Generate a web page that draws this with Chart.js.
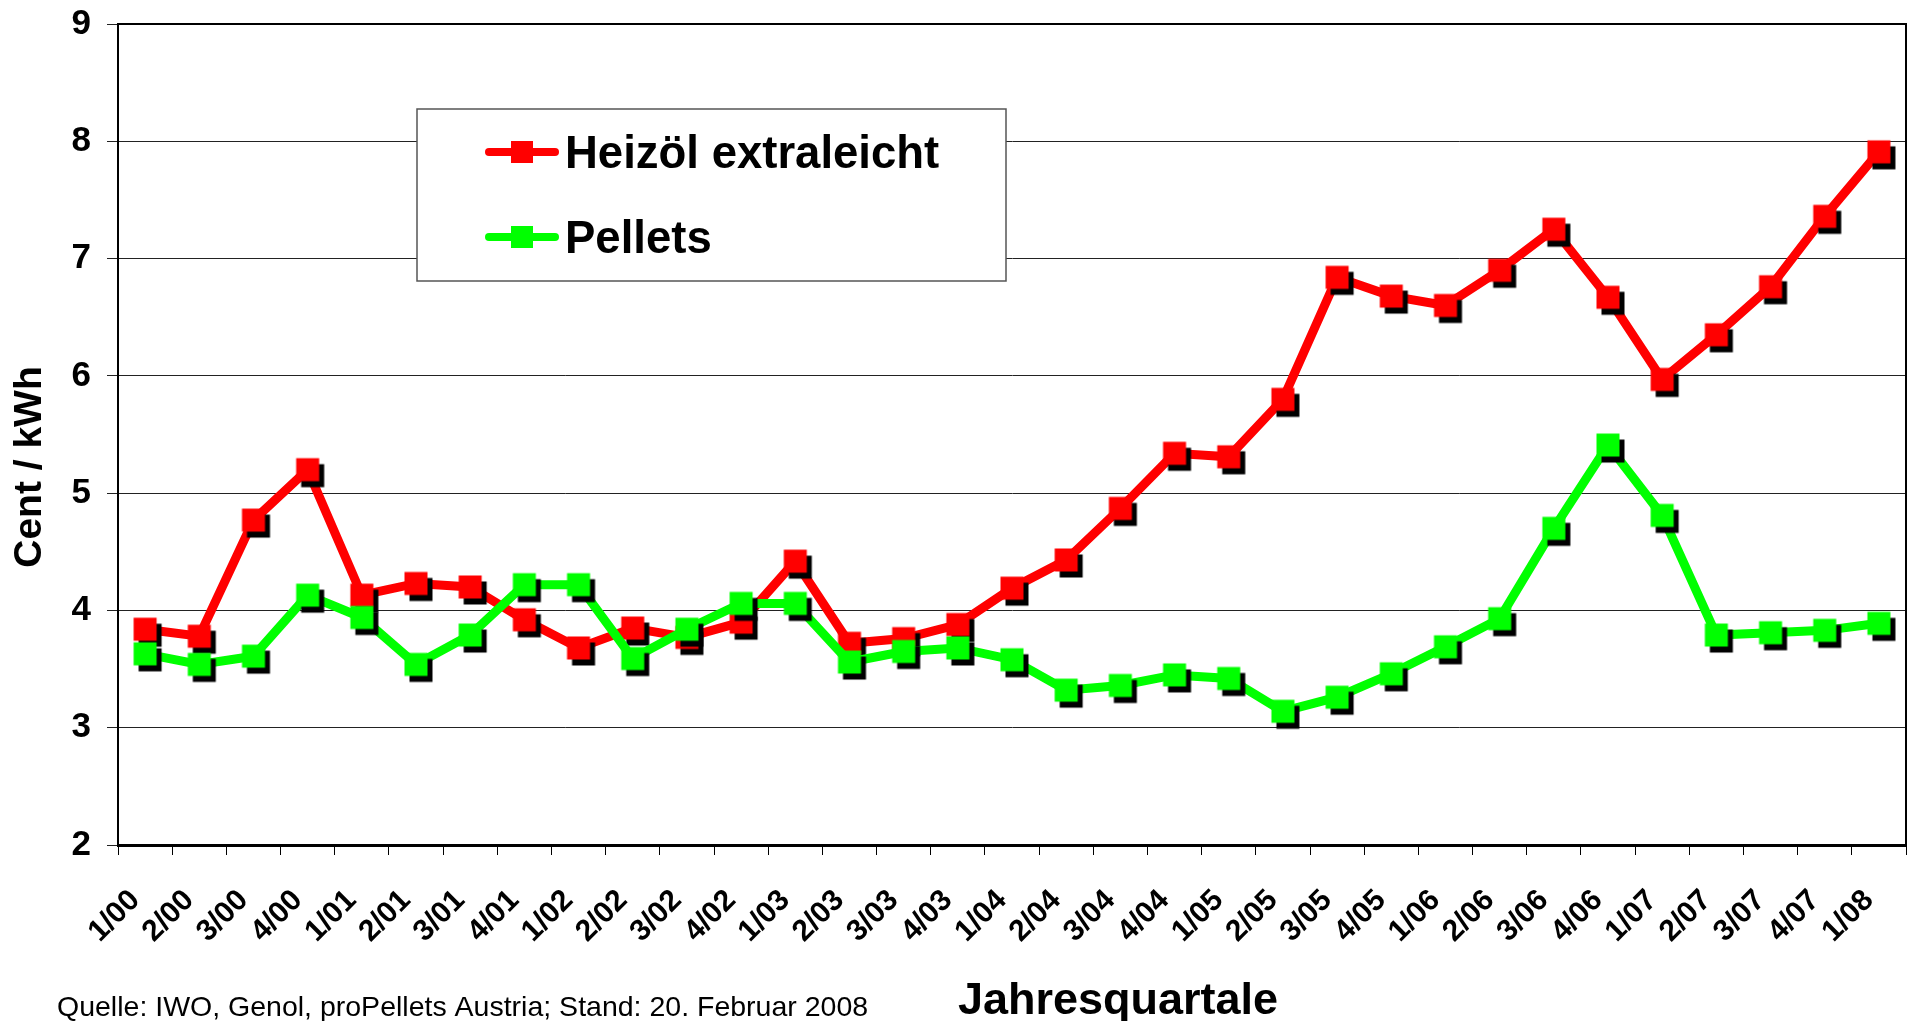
<!DOCTYPE html>
<html>
<head>
<meta charset="utf-8">
<script src="https://cdn.jsdelivr.net/npm/chart.js@4"></script>
<style>
  html, body { margin: 0; padding: 0; background: #fff; }
  #wrap { width: 1927px; height: 1021px; position: relative; }
</style>
</head>
<body>
<div id="wrap"><canvas id="chart"></canvas></div>
<script>
// Quartale 1/00 .. 1/08
const quarters = ['1/00','2/00','3/00','4/00','1/01','2/01','3/01','4/01','1/02','2/02','3/02','4/02',
  '1/03','2/03','3/03','4/03','1/04','2/04','3/04','4/04','1/05','2/05','3/05','4/05',
  '1/06','2/06','3/06','4/06','1/07','2/07','3/07','4/07','1/08'];

// Cent / kWh
const heizoel = [3.84, 3.78, 4.77, 5.20, 4.13, 4.23, 4.20, 3.92, 3.68, 3.85, 3.77, 3.90,
  4.42, 3.72, 3.76, 3.88, 4.19, 4.43, 4.87, 5.34, 5.31, 5.80, 6.84, 6.68,
  6.60, 6.90, 7.25, 6.67, 5.97, 6.35, 6.76, 7.36, 7.91];
const pellets = [3.63, 3.54, 3.61, 4.13, 3.94, 3.54, 3.79, 4.22, 4.22, 3.59, 3.84, 4.06,
  4.06, 3.56, 3.65, 3.68, 3.58, 3.32, 3.36, 3.45, 3.42, 3.14, 3.26, 3.46,
  3.69, 3.93, 4.70, 5.41, 4.81, 3.79, 3.81, 3.83, 3.89];

const yTicks = [2, 3, 4, 5, 6, 7, 8, 9];
const seriesNames = ['Heizöl extraleicht', 'Pellets'];
const yTitle = 'Cent / kWh';
const xTitle = 'Jahresquartale';
const sourceNote = 'Quelle: IWO, Genol, proPellets Austria; Stand: 20. Februar 2008';

const FONT = '"Liberation Sans", Arial, sans-serif';
Chart.defaults.font.family = FONT;
Chart.defaults.color = '#000';

// square marker with a black drop shadow, like the old excel charts
function shadowSquare(color) {
  const c = document.createElement('canvas');
  c.width = 48; c.height = 48;
  const ctx = c.getContext('2d');
  ctx.fillStyle = '#000';
  ctx.fillRect(17.5, 18.5, 23, 23);
  ctx.fillStyle = color;
  ctx.fillRect(12.5, 12.5, 23, 23);
  return c;
}

const frame = {
  id: 'frame',
  beforeDatasetsDraw(chart) {
    const { ctx, chartArea: a } = chart;
    ctx.save();
    ctx.strokeStyle = '#000';
    ctx.lineWidth = 2;
    ctx.beginPath();
    ctx.moveTo(a.left, a.top);
    ctx.lineTo(a.right, a.top);
    ctx.lineTo(a.right, a.bottom);
    ctx.stroke();
    ctx.restore();
  }
};

const boxLegend = {
  id: 'boxLegend',
  afterDraw(chart) {
    const ctx = chart.ctx;
    ctx.save();
    ctx.fillStyle = '#fff';
    ctx.fillRect(417, 109, 589, 172);
    ctx.strokeStyle = '#555';
    ctx.lineWidth = 1.5;
    ctx.strokeRect(417, 109, 589, 172);
    chart.data.datasets.forEach((ds, i) => {
      const y = 152 + i * 85;
      ctx.strokeStyle = ds.borderColor;
      ctx.lineWidth = 8;
      ctx.lineCap = 'round';
      ctx.beginPath();
      ctx.moveTo(489, y);
      ctx.lineTo(555, y);
      ctx.stroke();
      ctx.fillStyle = ds.borderColor;
      ctx.fillRect(511, y - 11, 22, 22);
      ctx.fillStyle = '#000';
      ctx.font = 'bold 45.5px ' + FONT;
      ctx.textBaseline = 'alphabetic';
      ctx.fillText(ds.label, 565, y + 16);
    });
    ctx.restore();
  }
};

const axisTexts = {
  id: 'axisTexts',
  afterDraw(chart) {
    const ctx = chart.ctx;
    ctx.save();
    ctx.fillStyle = '#000';
    ctx.textBaseline = 'middle';
    ctx.textAlign = 'center';
    ctx.font = 'bold 45px ' + FONT;
    ctx.fillText(xTitle, 1118, 1002);
    ctx.textAlign = 'left';
    ctx.font = '28.5px ' + FONT;
    ctx.fillText(sourceNote, 57, 1008);
    ctx.translate(30, 467);
    ctx.rotate(-Math.PI / 2);
    ctx.textAlign = 'center';
    ctx.font = 'bold 39px ' + FONT;
    ctx.fillText(yTitle, 0, 0);
    ctx.restore();
  }
};

new Chart(document.getElementById('chart'), {
  type: 'line',
  data: {
    labels: quarters,
    datasets: [
      {
        label: seriesNames[0],
        data: heizoel,
        borderColor: '#ff0000',
        backgroundColor: '#ff0000',
        borderWidth: 9,
        pointStyle: shadowSquare('#ff0000'),
        pointRadius: 12,
        tension: 0,
        order: 1
      },
      {
        label: seriesNames[1],
        data: pellets,
        borderColor: '#00ff00',
        backgroundColor: '#00ff00',
        borderWidth: 9,
        pointStyle: shadowSquare('#00ff00'),
        pointRadius: 12,
        tension: 0,
        order: 0
      }
    ]
  },
  options: {
    responsive: true,
    maintainAspectRatio: false,
    animation: false,
    layout: { padding: { top: 24, right: 8, left: 0, bottom: 0 } },
    plugins: {
      legend: { display: false },
      tooltip: { enabled: false }
    },
    scales: {
      x: {
        offset: true,
        grid: {
          offset: true,
          drawOnChartArea: false,
          drawTicks: true,
          tickLength: 10,
          color: '#000',
          lineWidth: 1
        },
        border: { color: '#000', width: 3 },
        ticks: {
          autoSkip: false,
          minRotation: 45,
          maxRotation: 45,
          padding: 28,
          labelOffset: -10,
          font: { size: 30, weight: 'bold' }
        },
        afterFit(scale) {
          scale.height = 176;
          scale.paddingLeft = 0;
          scale.paddingRight = 0;
        }
      },
      y: {
        min: yTicks[0],
        max: yTicks[yTicks.length - 1],
        afterBuildTicks(scale) {
          scale.ticks = yTicks.map(v => ({ value: v }));
        },
        grid: {
          color: '#222',
          lineWidth: 1,
          tickLength: 11
        },
        border: { color: '#000', width: 2 },
        ticks: {
          padding: 16,
          font: { size: 35, weight: 'bold' }
        },
        afterFit(scale) {
          scale.width = 118;
          scale.paddingTop = 0;
          scale.paddingBottom = 0;
        }
      }
    }
  },
  plugins: [frame, boxLegend, axisTexts]
});
</script>
</body>
</html>
